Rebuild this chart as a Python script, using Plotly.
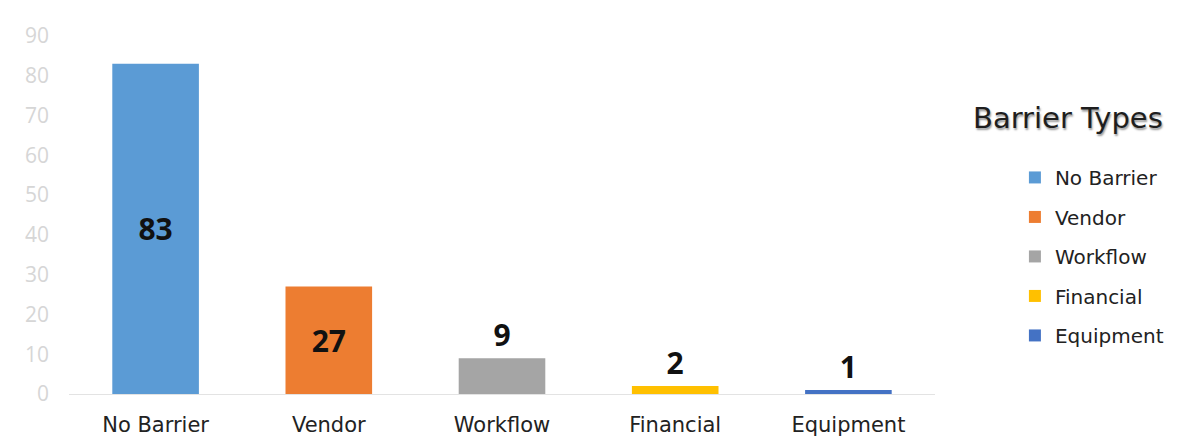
import plotly.graph_objects as go

categories = ["No Barrier", "Vendor", "Workflow", "Financial", "Equipment"]
values = [83, 27, 9, 2, 1]
colors = ["#5B9BD5", "#ED7D31", "#A5A5A5", "#FFC000", "#4472C4"]
label_positions = ["inside", "inside", "outside", "outside", "outside"]
y_ticks = [0, 10, 20, 30, 40, 50, 60, 70, 80, 90]
legend_title = "Barrier Types"

FONT = "Open Sans"
WIDE = "DejaVu Sans"

W, H = 1186, 441
ML, MR, MT, MB = 61, 259, 28, 47
PW, PH = W - ML - MR, H - MT - MB

label_font = dict(family=FONT, size=30, color="#111111", weight="bold")

fig = go.Figure()
for i, (cat, val, col, pos) in enumerate(zip(categories, values, colors, label_positions)):
    fig.add_trace(go.Bar(
        x=[cat], y=[val], name=cat,
        legendgroup=f"g{i}",
        marker=dict(color=col, line=dict(width=0)),
        width=0.5,
        text=[str(val)], textposition=pos,
        insidetextanchor="middle",
        textfont=label_font,
        outsidetextfont=label_font,
        insidetextfont=label_font,
        cliponaxis=False,
    ))

fig.update_layout(
    width=W, height=H,
    margin=dict(l=ML, r=MR, t=MT, b=MB),
    paper_bgcolor="white", plot_bgcolor="white",
    barmode="overlay",
    showlegend=True,
    font=dict(family=FONT, color="#333333"),
    legend=dict(
        xref="container", yref="container",
        x=0.849, y=0.66, xanchor="left", yanchor="top",
        font=dict(family=WIDE, size=20, color="#222222"),
        tracegroupgap=10.5, itemwidth=30,
        bgcolor="rgba(0,0,0,0)",
    ),
    annotations=[dict(
        text=legend_title, xref="paper", yref="paper",
        x=(1060 - ML) / PW, y=(H - MB - 112) / PH,
        xanchor="center", yanchor="middle",
        showarrow=False,
        font=dict(family=WIDE, size=29, color="#1e1e1e",
                  shadow="1px 2px 2px #999999"),
    )],
)

fig.update_xaxes(
    showline=True, linecolor="#e3e3e3", linewidth=1,
    showgrid=False, ticks="outside", ticklen=0,
    ticklabelstandoff=12,
    tickfont=dict(family=WIDE, size=21, color="#222222"),
)
fig.update_yaxes(
    range=[0, 90], tickvals=y_ticks,
    showgrid=False, zeroline=False, showline=False,
    ticklabelstandoff=19,
    tickfont=dict(family=FONT, size=21, color="#d6d6d6"),
)

fig.write_html("out.html")
